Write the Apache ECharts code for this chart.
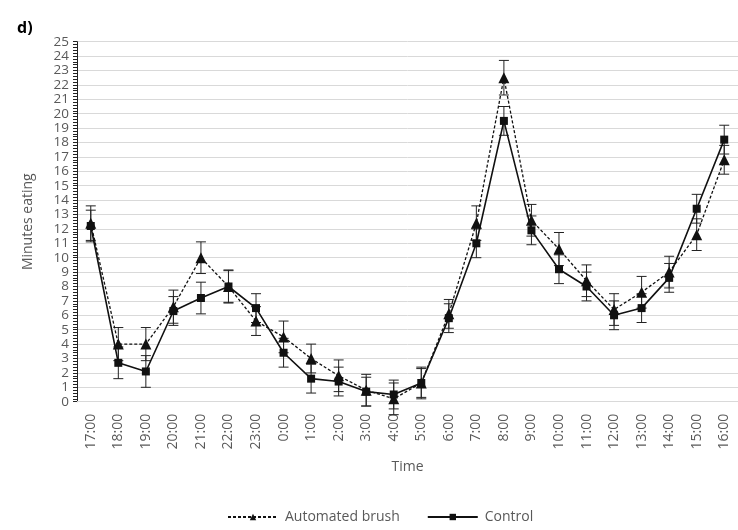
<!DOCTYPE html>
<html>
<head>
<meta charset="utf-8">
<script src="https://cdn.jsdelivr.net/npm/echarts@6/dist/echarts.min.js"></script>
<style>html,body{margin:0;padding:0;background:#fff}#c{width:738px;height:530px}</style>
</head>
<body>
<div id="c"></div>
<script>
var categories = ['17:00','18:00','19:00','20:00','21:00','22:00','23:00','0:00','1:00','2:00','3:00','4:00','5:00','6:00','7:00','8:00','9:00','10:00','11:00','12:00','13:00','14:00','15:00','16:00'];
var automated = [12.4, 4.0, 4.0, 6.6, 10.0, 8.0, 5.6, 4.5, 3.0, 1.8, 0.8, 0.2, 1.3, 6.1, 12.4, 22.5, 12.6, 10.6, 8.4, 6.4, 7.6, 9.0, 11.6, 16.8];
var automatedErr = [1.2, 1.15, 1.15, 1.15, 1.1, 1.1, 1.0, 1.1, 1.0, 1.1, 1.1, 1.1, 1.0, 1.0, 1.2, 1.2, 1.1, 1.15, 1.1, 1.1, 1.1, 1.1, 1.1, 1.0];
var control = [12.2, 2.7, 2.1, 6.3, 7.2, 8.0, 6.5, 3.4, 1.6, 1.4, 0.7, 0.5, 1.3, 5.8, 11.0, 19.5, 11.9, 9.2, 8.0, 6.0, 6.5, 8.6, 13.4, 18.2];
var controlErr = [1.1, 1.1, 1.1, 1.0, 1.1, 1.15, 1.0, 1.0, 1.0, 1.0, 1.0, 1.0, 1.1, 1.0, 1.0, 1.0, 1.0, 1.0, 1.0, 1.0, 1.0, 1.0, 1.0, 1.0];
var yMin = 0, yMax = 25, yStep = 1;

function errData(vals, errs) {
  return vals.map(function (v, i) { return [i, v - errs[i], v + errs[i]]; });
}
function errRender(params, api) {
  var i = api.value(0);
  var lo = api.coord([i, api.value(1)]);
  var hi = api.coord([i, api.value(2)]);
  var hw = 5;
  var st = { stroke: '#222', lineWidth: 1 };
  return {
    type: 'group',
    children: [
      { type: 'line', shape: { x1: lo[0], y1: lo[1], x2: hi[0], y2: hi[1] }, style: st },
      { type: 'line', shape: { x1: lo[0] - hw, y1: lo[1], x2: lo[0] + hw, y2: lo[1] }, style: st },
      { type: 'line', shape: { x1: hi[0] - hw, y1: hi[1], x2: hi[0] + hw, y2: hi[1] }, style: st }
    ]
  };
}

var chart = echarts.init(document.getElementById('c'), null, { renderer: 'canvas' });
var txt = '#595959';
var ff = '"Open Sans", "Liberation Sans", sans-serif';
chart.setOption({
  animation: false,
  textStyle: { fontFamily: ff },
  title: { text: 'd)', left: 12, top: 15, textStyle: { fontSize: 16, fontWeight: 'bold', color: '#000', fontFamily: ff } },
  grid: { left: 77, right: -7, top: 41.7, bottom: 128.3, containLabel: false },
  legend: {
    bottom: 1, left: 222, itemWidth: 50, itemHeight: 8, itemGap: 27,
    textStyle: { color: txt, fontSize: 14, fontFamily: ff, padding: [0, 0, 0, 2] },
    data: ['Automated brush', 'Control']
  },
  xAxis: {
    type: 'category', data: categories, boundaryGap: true,
    name: 'Time', nameLocation: 'middle', nameGap: 58,
    nameTextStyle: { color: txt, fontSize: 14, fontFamily: ff },
    axisLine: { lineStyle: { color: '#d9d9d9' } },
    axisTick: { show: false },
    axisLabel: { rotate: 90, color: txt, fontSize: 14, margin: 12, fontFamily: ff, interval: 0 }
  },
  yAxis: {
    type: 'value', min: yMin, max: yMax, interval: yStep,
    name: 'Minutes eating', nameLocation: 'middle', nameGap: 42, nameRotate: 90,
    nameTextStyle: { color: txt, fontSize: 14, fontFamily: ff },
    axisLine: { show: true, lineStyle: { color: '#222', width: 1 } },
    axisTick: { show: true, length: 4, lineStyle: { color: '#222' } },
    minorTick: { show: true, splitNumber: 5, length: 4, lineStyle: { color: '#222' } },
    axisLabel: { color: txt, fontSize: 13.5, lineHeight: 12, margin: 8, fontFamily: ff },
    splitLine: { lineStyle: { color: '#d9d9d9', width: 1 } }
  },
  series: [
    {
      name: 'Automated brush', type: 'line', data: automated,
      symbol: 'triangle', symbolSize: 11,
      lineStyle: { color: '#111', width: 1.3, type: [3, 2] },
      itemStyle: { color: '#111' }, z: 3
    },
    {
      name: 'Control', type: 'line', data: control,
      symbol: 'rect', symbolSize: 8,
      lineStyle: { color: '#111', width: 1.6, type: 'solid' },
      itemStyle: { color: '#111' }, z: 3
    },
    { name: 'errA', type: 'custom', data: errData(automated, automatedErr), renderItem: errRender, z: 2, encode: { x: 0, y: [1, 2] } },
    { name: 'errC', type: 'custom', data: errData(control, controlErr), renderItem: errRender, z: 2, encode: { x: 0, y: [1, 2] } }
  ]
});
</script>
</body>
</html>
